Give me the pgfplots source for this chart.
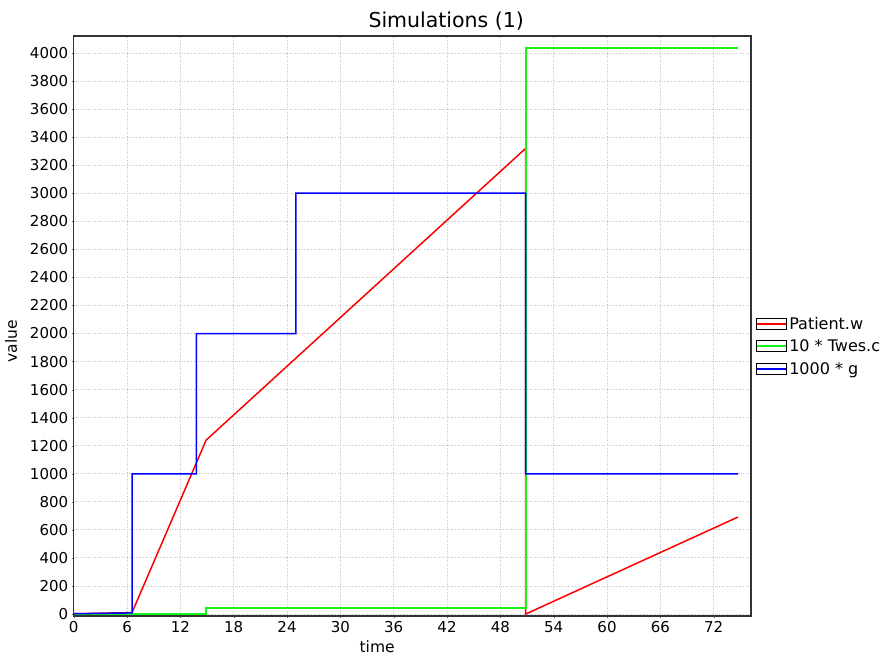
\documentclass[border=0pt]{standalone}
\usepackage{fontspec}
\setmainfont{DejaVu Sans}
\usepackage{pgfplots}
\pgfplotsset{compat=1.18}

\definecolor{simred}{rgb}{1,0,0}
\definecolor{simgreen}{rgb}{0.1,0.95,0.1}
\definecolor{simblue}{rgb}{0,0,1}

\begin{document}
\begin{tikzpicture}[x=1pt,y=1pt]
\useasboundingbox (-73.7,-40) rectangle (819.3,616);
\begin{axis}[
    at={(0,0)}, anchor=south west,
    scale only axis,
    width=677.3pt, height=580pt,
    xmin=0, xmax=76.2,
    ymin=-14, ymax=4121,
    xtick={0,6,...,72},
    ytick={0,200,...,4000},
    grid=major,
    major grid style={gray!45, dotted, line width=0.9pt},
    axis line style={black!80, line width=1.4pt},
    tick style={black!60},
    major tick length=2pt,
    tick align=outside,
    tick pos=left,
    ticklabel style={font=\fontsize{15}{17}\selectfont},
    /pgf/number format/assume math mode=true,
    /pgf/number format/1000 sep={},
    xlabel={time},
    ylabel={value},
    label style={font=\fontsize{15.5}{17}\selectfont},
    xlabel style={at={(axis description cs:0.448,0)}, anchor=base, yshift=-36pt},
    ylabel style={at={(axis description cs:-0.0926,0.474)}, anchor=center},
    title={Simulations (1)},
    title style={at={(axis description cs:0.55,1)}, anchor=south, font=\fontsize{20.5}{22}\selectfont, yshift=-4pt},
    legend style={at={(1.006,0.465)}, anchor=west, draw=none, fill=none,
        font=\fontsize{16}{18}\selectfont, row sep=5pt, inner sep=1pt,
        cells={anchor=west}},
    legend image code/.code={
        \path[draw=black, solid, line width=1pt, fill=white] (0pt,-5.5pt) rectangle (30pt,5.5pt);
        \draw[solid, line width=2pt] (0.5pt,0pt) -- (29.5pt,0pt);
    },
]
\addplot[color=simred, line width=1.5pt, sharp plot] coordinates {
    (0,2) (6.56,10) (14.9,1240) (50.85,3320) (50.85,0) (74.75,692)
};
\addlegendentry{Patient.w}
\addplot[color=simgreen, line width=2pt, sharp plot] coordinates {
    (0,0) (14.9,0) (14.9,45) (50.85,45) (50.85,4036) (74.75,4036)
};
\addlegendentry{10 * Twes.c}
\addplot[color=simblue, line width=1.5pt, sharp plot] coordinates {
    (0,2) (6.56,8) (6.56,1000) (13.8,1000) (13.8,2000) (25,2000)
    (25,3000) (50.85,3000) (50.85,1000) (74.75,1000)
};
\addlegendentry{1000 * g}
\end{axis}
\end{tikzpicture}
\end{document}
